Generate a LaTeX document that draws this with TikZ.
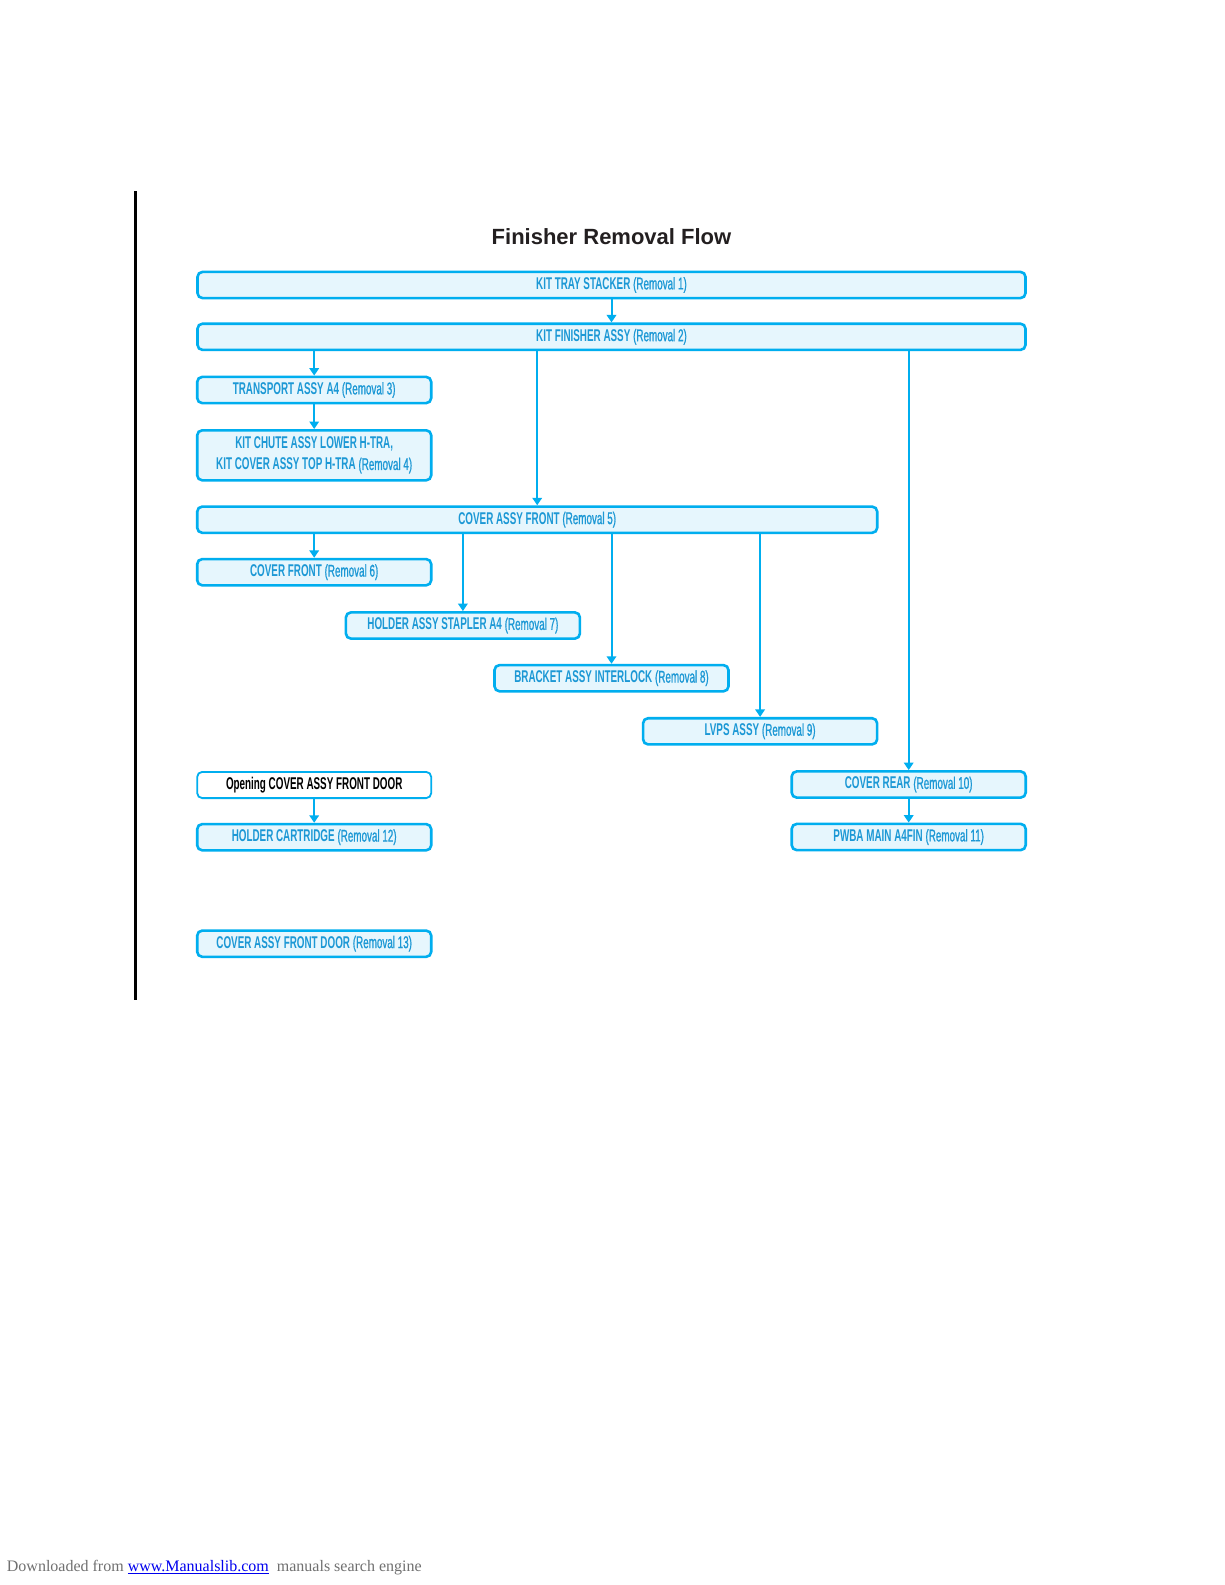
\documentclass[tikz,border=0pt]{standalone}
\usepackage{fontspec}
\usetikzlibrary{arrows.meta}
\newfontfamily\boxfont[FakeStretch=0.58]{Liberation Sans}
\newfontfamily\remfont[FakeStretch=0.58,FakeBold=0.9]{Liberation Sans}
\newfontfamily\titlefont{Liberation Sans}
\newfontfamily\footfont{Liberation Serif}
\definecolor{cyanB}{RGB}{0,174,239}
\definecolor{cyanF}{RGB}{230,246,253}
\definecolor{txtB}{RGB}{28,152,213}
\definecolor{footgray}{RGB}{112,112,112}
\definecolor{linkblue}{RGB}{0,0,238}
\tikzset{
  box/.style={draw=cyanB, fill=cyanF, line width=2.6pt, rounded corners=5pt,
    inner sep=0pt, text=txtB, align=center,
    font=\boxfont\fontsize{17}{21}\selectfont, minimum height=26.2pt},
  narrowbox/.style={box, minimum width=234pt},
  openbox/.style={narrowbox, fill=white, line width=1.8pt, text=black},
  arr/.style={draw=cyanB, line width=2pt, -{Triangle[width=9.5pt,length=7.5pt]}},
}
\newcommand{\rem}[1]{{\remfont\mdseries(Removal #1)}}
\begin{document}
\begin{tikzpicture}[x=1pt,y=-1pt]
\useasboundingbox (0,0) rectangle (1225,1585);
\fill[white] (0,0) rectangle (1225,1585);
% left bar
\draw[line width=3pt] (135.3,191) -- (135.3,1000);
% title
\node[anchor=base, font=\titlefont\bfseries\fontsize{22}{26}\selectfont, text={rgb,255:red,35;green,31;blue,32}] (title) at (611.5,244.3) {Finisher Removal Flow};
% boxes
\node[box, minimum width=828pt] (b1) at (611.5,285) {\bfseries KIT TRAY STACKER \rem{1}};
\node[box, minimum width=828pt] (b2) at (611.5,336.8) {\bfseries KIT FINISHER ASSY \rem{2}};
\node[narrowbox] (b3) at (314.2,390) {\bfseries TRANSPORT ASSY A4 \rem{3}};
\node[narrowbox, minimum height=50pt] (b4) at (314.2,455.3) {\bfseries KIT CHUTE ASSY LOWER H-TRA,\\\bfseries KIT COVER ASSY TOP H-TRA \rem{4}};
\node[box, minimum width=680pt] (b5) at (537.2,519.7) {\bfseries COVER ASSY FRONT \rem{5}};
\node[narrowbox] (b6) at (314.2,572.2) {\bfseries COVER FRONT \rem{6}};
\node[narrowbox] (b7) at (462.9,625.5) {\bfseries HOLDER ASSY STAPLER A4 \rem{7}};
\node[narrowbox] (b8) at (611.5,678.2) {\bfseries BRACKET ASSY INTERLOCK \rem{8}};
\node[narrowbox] (b9) at (760.1,731.3) {\bfseries LVPS ASSY \rem{9}};
\node[narrowbox] (b10) at (908.7,784.5) {\bfseries COVER REAR \rem{10}};
\node[narrowbox] (b11) at (908.7,837) {\bfseries PWBA MAIN A4FIN \rem{11}};
\node[openbox] (bo) at (314.2,785) {\bfseries Opening COVER ASSY FRONT DOOR};
\node[narrowbox] (b12) at (314.2,837.2) {\bfseries HOLDER CARTRIDGE \rem{12}};
\node[narrowbox] (b13) at (314.2,943.7) {\bfseries COVER ASSY FRONT DOOR \rem{13}};
% connectors
\draw[arr] (b1.south) -- (b2.north);
\draw[arr] (b3.north |- b2.south) -- (b3.north);
\draw[arr] (b3.south) -- (b4.north);
\draw[arr] (b5.north |- b2.south) -- (b5.north);
\draw[arr] (b10.north |- b2.south) -- (b10.north);
\draw[arr] (b6.north |- b5.south) -- (b6.north);
\draw[arr] (b7.north |- b5.south) -- (b7.north);
\draw[arr] (b8.north |- b5.south) -- (b8.north);
\draw[arr] (b9.north |- b5.south) -- (b9.north);
\draw[arr] (bo.south) -- (b12.north);
\draw[arr] (b10.south) -- (b11.north);
% footer
\node[anchor=base west, inner sep=0pt, font=\footfont\fontsize{16}{19}\selectfont, text=footgray] (foot) at (6.7,1571.7) {Downloaded from {\color{linkblue}\underline{www.Manualslib.com}}\ \ manuals search engine};
\end{tikzpicture}
\end{document}
